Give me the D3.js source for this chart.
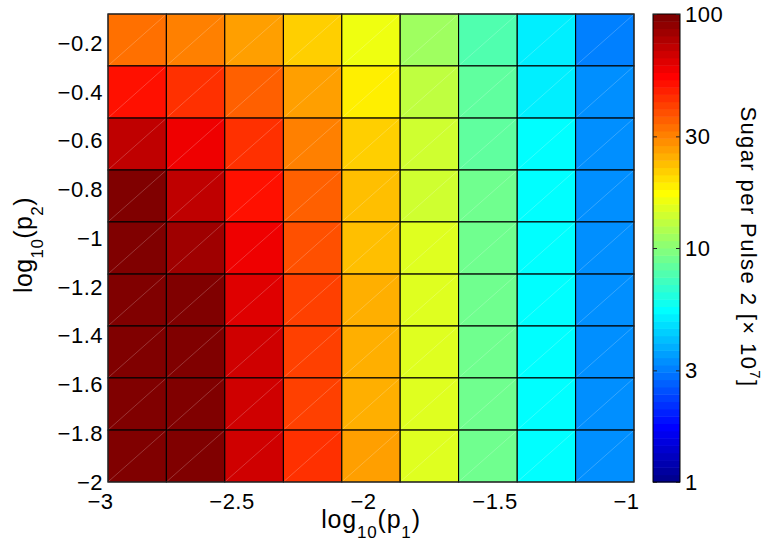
<!DOCTYPE html>
<html><head><meta charset="utf-8">
<script src="https://cdn.jsdelivr.net/npm/d3@7"></script>
<style>
html,body{margin:0;padding:0;background:#fff;}
svg{display:block;}
text{font-family:"Liberation Sans",Arial,Helvetica,sans-serif;fill:#000;}
</style>
</head><body>
<svg id="chart" width="772" height="542"></svg>
<script>
// ---- data ----
const p1Edges = [-3, -2.778, -2.556, -2.333, -2.111, -1.889, -1.667, -1.444, -1.222, -1];
const p2Edges = [-2, -1.787, -1.573, -1.36, -1.147, -0.933, -0.72, -0.507, -0.293, -0.08];
// rows: top (p2 ~ -0.19) to bottom (p2 ~ -1.89); columns: p1 from -3 to -1
const sugarRow1 = [32.8, 30.5, 26.4, 21.3, 16.0, 11.1, 7.77, 5.05, 3.05];
const sugarRow2 = [50.5, 43.7, 35.2, 26.4, 18.4, 12.9, 8.35, 5.05, 3.28];
const sugarRow3 = [72.3, 58.3, 43.7, 30.5, 21.3, 13.8, 8.35, 5.43, 3.28];
const sugarRow4 = [98, 72.3, 50.5, 35.2, 22.9, 13.8, 8.98, 5.43, 3.28];
const sugarRow5 = [98, 83.5, 58.3, 37.9, 22.9, 14.9, 8.98, 5.43, 3.28];
const sugarRow6 = [98, 98, 62.6, 40.7, 24.6, 14.9, 8.98, 5.43, 3.28];
const sugarRow7 = [98, 98, 67.3, 40.7, 24.6, 14.9, 8.98, 5.43, 3.28];
const sugarRow8 = [98, 98, 67.3, 40.7, 24.6, 14.9, 8.98, 5.43, 3.28];
const sugarRow9 = [98, 98, 67.3, 43.7, 26.4, 14.9, 8.98, 5.43, 3.28];
const sugar = [sugarRow1, sugarRow2, sugarRow3, sugarRow4, sugarRow5, sugarRow6, sugarRow7, sugarRow8, sugarRow9];

const xTicks = [-3, -2.5, -2, -1.5, -1];
const xTickLabels = ["\u22123", "\u22122.5", "\u22122", "\u22121.5", "\u22121"];
const yTicks = [-2, -1.8, -1.6, -1.4, -1.2, -1, -0.8, -0.6, -0.4, -0.2];
const yTickLabels = ["\u22122", "\u22121.8", "\u22121.6", "\u22121.4", "\u22121.2", "\u22121", "\u22120.8", "\u22120.6", "\u22120.4", "\u22120.2"];
const cbTicks = [1, 3, 10, 30, 100];
const cbTickLabels = ["1", "3", "10", "30", "100"];
const nColors = 64;

// ---- jet colormap ----
function jet(k) {
  const t = k + 1; let r, g, b;
  if (t <= 8) { r = 0; g = 0; b = 0.5 + t * 0.0625; }
  else if (t <= 24) { r = 0; g = (t - 8) * 0.0625; b = 1; }
  else if (t <= 40) { r = (t - 24) * 0.0625; g = 1; b = 1 - (t - 24) * 0.0625; }
  else if (t <= 56) { r = 1; g = 1 - (t - 40) * 0.0625; b = 0; }
  else { r = 1 - (t - 56) * 0.0625; g = 0; b = 0; }
  return d3.rgb(Math.round(r * 255), Math.round(g * 255), Math.round(b * 255)).toString();
}
const cIdx = d3.scaleLog().domain([1, 100]).range([0, nColors]);
const color = v => jet(Math.max(0, Math.min(nColors - 1, Math.floor(cIdx(v)))));

// ---- layout ----
const L = 108, R = 634, T = 14, B = 482;
const svg = d3.select("#chart");
const x = d3.scaleLinear().domain([-3, -1]).range([L, R]);
const y = d3.scaleLinear().domain([-2, -0.08]).range([B, T]);

const cells = [];
sugar.forEach((row, r) => row.forEach((v, c) => {
  cells.push({ x0: p1Edges[c], x1: p1Edges[c + 1], y0: p2Edges[8 - r], y1: p2Edges[9 - r], v });
}));

const gc = svg.append("g");
gc.selectAll("rect.cell").data(cells).join("rect")
  .attr("class", "cell")
  .attr("x", d => x(d.x0)).attr("y", d => y(d.y1))
  .attr("width", d => x(d.x1) - x(d.x0)).attr("height", d => y(d.y0) - y(d.y1))
  .attr("fill", d => color(d.v))
  .attr("stroke", "#000").attr("stroke-width", 1.1);
gc.selectAll("line.diag").data(cells).join("line")
  .attr("class", "diag")
  .attr("x1", d => x(d.x0) + 1).attr("y1", d => y(d.y0) - 1)
  .attr("x2", d => x(d.x1) - 1).attr("y2", d => y(d.y1) + 1)
  .attr("stroke", "rgba(255,255,255,0.35)").attr("stroke-width", 0.6);

svg.append("rect").attr("x", L).attr("y", T).attr("width", R - L).attr("height", B - T)
  .attr("fill", "none").attr("stroke", "#333").attr("stroke-width", 1);

// axes
const fs = 22;
const ya = svg.append("g").attr("transform", `translate(${L},0)`)
  .call(d3.axisLeft(y).tickValues(yTicks).tickFormat((d, i) => yTickLabels[i]).tickSize(0).tickPadding(5));
ya.select(".domain").remove();
ya.selectAll("text").attr("font-size", fs).attr("font-family", null).attr("letter-spacing", 0.5);

const xa = svg.append("g").attr("transform", `translate(0,${B})`)
  .call(d3.axisBottom(x).tickValues(xTicks).tickFormat((d, i) => xTickLabels[i]).tickSize(0).tickPadding(11));
xa.select(".domain").remove();
xa.selectAll("text").attr("font-size", fs).attr("font-family", null).attr("letter-spacing", 0.5).attr("dx", -8);

// axis labels
const xl = svg.append("text").attr("transform", "translate(371,528)").attr("text-anchor", "middle")
  .attr("font-size", 25).attr("letter-spacing", 0.8);
xl.append("tspan").text("log");
xl.append("tspan").attr("font-size", 17).attr("dy", 10).text("10");
xl.append("tspan").attr("dy", -10).text("(p");
xl.append("tspan").attr("font-size", 17).attr("dy", 10).text("1");
xl.append("tspan").attr("dy", -10).text(")");

const yl = svg.append("text").attr("transform", "translate(32,245) rotate(-90)").attr("text-anchor", "middle")
  .attr("font-size", 25).attr("letter-spacing", 0.4);
yl.append("tspan").text("log");
yl.append("tspan").attr("font-size", 17).attr("dy", 11).text("10");
yl.append("tspan").attr("dy", -11).text("(p");
yl.append("tspan").attr("font-size", 17).attr("dy", 11).text("2");
yl.append("tspan").attr("dy", -11).text(")");

// colorbar
const CL = 653, CR = 680;
const cb = d3.scaleLog().domain([1, 100]).range([B, T]);
const bands = d3.range(nColors);
svg.append("g").selectAll("rect").data(bands).join("rect")
  .attr("x", CL).attr("width", CR - CL)
  .attr("y", k => cb(cIdx.invert(k + 1)))
  .attr("height", k => cb(cIdx.invert(k)) - cb(cIdx.invert(k + 1)) + 0.5)
  .attr("fill", k => jet(k));
svg.append("rect").attr("x", CL).attr("y", T).attr("width", CR - CL).attr("height", B - T)
  .attr("fill", "none").attr("stroke", "#000").attr("stroke-width", 1);
const cba = svg.append("g").attr("transform", `translate(${CR},0)`)
  .call(d3.axisRight(cb).tickValues(cbTicks).tickFormat((d, i) => cbTickLabels[i]).tickSizeInner(-4).tickSizeOuter(0).tickPadding(5));
cba.select(".domain").remove();
cba.selectAll("line").attr("stroke", "#222");
cba.selectAll("text").attr("font-size", fs).attr("font-family", null).attr("letter-spacing", 0.5);
const cbl = svg.append("g").attr("transform", `translate(${CL},0)`)
  .call(d3.axisLeft(cb).tickValues(cbTicks).tickFormat("").tickSizeInner(-4).tickSizeOuter(0));
cbl.select(".domain").remove();
cbl.selectAll("line").attr("stroke", "#222");

const cl = svg.append("text").attr("transform", "translate(741,247) rotate(90)").attr("text-anchor", "middle")
  .attr("font-size", 22).attr("letter-spacing", 1.4);
cl.append("tspan").text("Sugar per Pulse 2 [\u00d7 10");
cl.append("tspan").attr("font-size", 15).attr("dy", -9).text("7");
cl.append("tspan").attr("dy", 9).text("]");
</script>
</body></html>
